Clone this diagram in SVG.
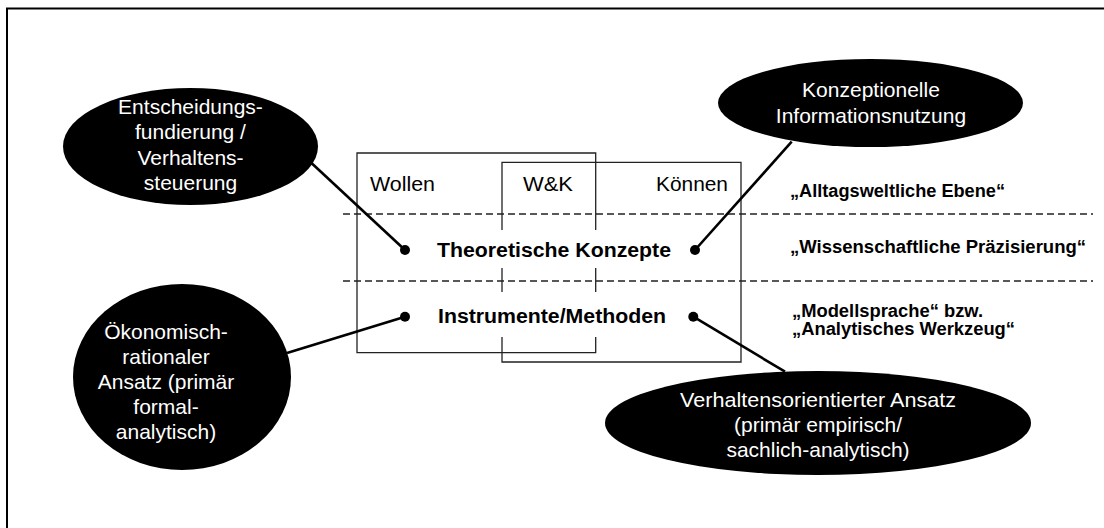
<svg xmlns="http://www.w3.org/2000/svg" width="1104" height="528" viewBox="0 0 1104 528">
<style>
.frame{fill:none;stroke:#000;stroke-width:2}
.box{fill:none;stroke:#222;stroke-width:1.3}
.dash{fill:none;stroke:#222;stroke-width:1.3;stroke-dasharray:7,4}
.ell{fill:#000}
.et{font-family:"Liberation Sans",Arial,sans-serif;font-size:21px;fill:#fff;text-anchor:middle}
.rt{font-family:"Liberation Sans",Arial,sans-serif;font-size:20px;fill:#000}
.bt{font-family:"Liberation Sans",Arial,sans-serif;font-size:20px;font-weight:bold;fill:#000}
.st{font-family:"Liberation Sans",Arial,sans-serif;font-size:17.5px;font-weight:bold;fill:#000}
.con{stroke:#000;stroke-width:2.6;fill:none}
.dot{fill:#000}
</style>
<path class="frame" d="M7,530 V8.5 H1106"/>
<g id="levels">
<line class="dash" x1="343" y1="214" x2="1093" y2="214"/>
<line class="dash" x1="343" y1="281" x2="1093" y2="281"/>
</g>
<g id="wollen-box">
<path class="box" d="M502,352.7 H357 V153 H595.7 V230 M595.7,268 V292 M595.7,337 V352.7 H502"/>
</g>
<g id="koennen-box">
<path class="box" d="M502,230 V162.3 H741 V362 H502 V337 M502,292 V268"/>
</g>
<g id="box-labels">
<text class="rt" x="370" y="190.7" textLength="65" lengthAdjust="spacingAndGlyphs">Wollen</text>
<text class="rt" x="523" y="190.7" textLength="50" lengthAdjust="spacingAndGlyphs">W&amp;K</text>
<text class="rt" x="656" y="190.7" textLength="72" lengthAdjust="spacingAndGlyphs">Können</text>
<text class="bt" x="437" y="256.7" textLength="234" lengthAdjust="spacingAndGlyphs">Theoretische Konzepte</text>
<text class="bt" x="438" y="323" textLength="228" lengthAdjust="spacingAndGlyphs">Instrumente/Methoden</text>
</g>
<g id="level-labels">
<text class="st" x="790" y="196.7" textLength="215" lengthAdjust="spacingAndGlyphs">„Alltagsweltliche Ebene“</text>
<text class="st" x="790" y="253.3" textLength="296" lengthAdjust="spacingAndGlyphs">„Wissenschaftliche Präzisierung“</text>
<text class="st" x="792" y="316.7" textLength="191" lengthAdjust="spacingAndGlyphs">„Modellsprache“ bzw.</text>
<text class="st" x="792" y="335" textLength="223" lengthAdjust="spacingAndGlyphs">„Analytisches Werkzeug“</text>
</g>
<g id="connectors">
<line class="con" x1="311.7" y1="163.3" x2="405" y2="250"/>
<circle class="dot" cx="405" cy="250" r="5"/>
<line class="con" x1="791.7" y1="141.7" x2="695" y2="250"/>
<circle class="dot" cx="695" cy="250" r="5"/>
<line class="con" x1="287" y1="353" x2="405" y2="316.7"/>
<circle class="dot" cx="405" cy="316.7" r="5"/>
<line class="con" x1="785" y1="371.7" x2="693.3" y2="316.7"/>
<circle class="dot" cx="693.3" cy="316.7" r="5"/>
</g>
<g id="node-entscheidung">
<ellipse class="ell" cx="190.5" cy="146.5" rx="127.5" ry="58.5"/>
<text class="et" x="190.5" y="113.5">Entscheidungs-</text>
<text class="et" x="190.5" y="139">fundierung /</text>
<text class="et" x="190.5" y="164.5">Verhaltens-</text>
<text class="et" x="190.5" y="190">steuerung</text>
</g>
<g id="node-konzeptionell">
<ellipse class="ell" cx="870.5" cy="103" rx="152.5" ry="44"/>
<text class="et" x="871" y="96.7">Konzeptionelle</text>
<text class="et" x="871" y="123.3">Informationsnutzung</text>
</g>
<g id="node-oekonomisch">
<ellipse class="ell" cx="182" cy="377" rx="109" ry="93"/>
<text class="et" x="166" y="338.5">Ökonomisch-</text>
<text class="et" x="166" y="363.5">rationaler</text>
<text class="et" x="166" y="388.5">Ansatz (primär</text>
<text class="et" x="166" y="413.5">formal-</text>
<text class="et" x="166" y="438.5">analytisch)</text>
</g>
<g id="node-verhalten">
<ellipse class="ell" cx="818" cy="423" rx="213" ry="52"/>
<text class="et" x="818" y="406.7" textLength="276" lengthAdjust="spacingAndGlyphs">Verhaltensorientierter Ansatz</text>
<text class="et" x="818" y="431.7">(primär empirisch/</text>
<text class="et" x="818" y="456.7">sachlich-analytisch)</text>
</g>
</svg>
